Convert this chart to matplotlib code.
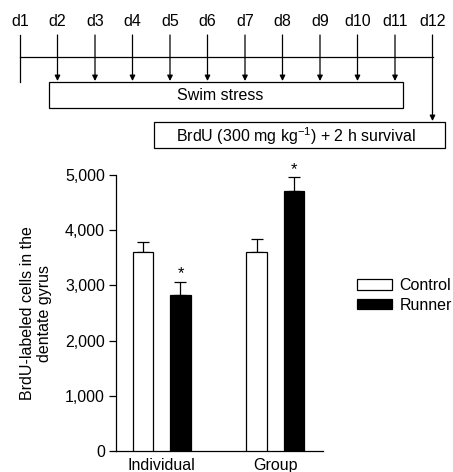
import numpy as np
import matplotlib
matplotlib.use("Agg")
import matplotlib.pyplot as plt
from matplotlib.patches import Rectangle

plt.rcParams['font.family'] = ['Liberation Sans', 'DejaVu Sans']
plt.rcParams['font.size'] = 11.5

# Данные
days = ['d1', 'd2', 'd3', 'd4', 'd5', 'd6', 'd7', 'd8', 'd9', 'd10', 'd11', 'd12']
stress_days = [2, 3, 4, 5, 6, 7, 8, 9, 10, 11]
brdu_day = 12
groups = ['Individual', 'Group']
control_mean = [3600, 3600]
control_err = [190, 245]
runner_mean = [2820, 4715]
runner_err = [250, 255]
runner_signif = [True, True]
yticks = [0, 1000, 2000, 3000, 4000, 5000]

W, H = 453, 472
fig = plt.figure(figsize=(W / 100, H / 100), dpi=100)

# Временная шкала сверху (оси в пикселях)
tl = fig.add_axes([0, 0, 1, 1])
tl.set_xlim(0, W)
tl.set_ylim(H, 0)
tl.axis('off')

def day_x(d):
    return 20 + (d - 1) * 37.5

lw = 0.9
for i, lab in enumerate(days):
    tl.text(day_x(i + 1), 22, lab, ha='center', va='center', fontsize=11.5)

tl.plot([day_x(1), day_x(1)], [35, 82], color='black', lw=lw)
tl.plot([day_x(1), day_x(12)], [57, 57], color='black', lw=lw)

for d in stress_days:
    tl.annotate('', xy=(day_x(d), 81), xytext=(day_x(d), 35),
                arrowprops=dict(arrowstyle='-|>', color='black', lw=lw,
                                mutation_scale=8, shrinkA=0, shrinkB=0))
tl.annotate('', xy=(day_x(brdu_day), 121), xytext=(day_x(brdu_day), 35),
            arrowprops=dict(arrowstyle='-|>', color='black', lw=lw,
                            mutation_scale=8, shrinkA=0, shrinkB=0))

tl.add_patch(Rectangle((49, 82), 354, 26, fill=False, lw=lw, ec='black'))
tl.text(220, 96, 'Swim stress', ha='center', va='center', fontsize=11.5)
tl.add_patch(Rectangle((154, 122), 291, 26, fill=False, lw=lw, ec='black'))
tl.text(296, 136, r'BrdU (300 mg kg$^{\mathregular{-1}}$) + 2 h survival',
        ha='center', va='center', fontsize=11.5)

# Столбчатая диаграмма
ax = fig.add_axes([116 / W, (H - 451) / H, (323 - 116) / W, (451 - 175) / H])
x = np.arange(len(groups))
off = 0.165
w = 0.18
ax.bar(x - off, control_mean, w, color='white', edgecolor='black', lw=lw,
       label='Control', zorder=3)
ax.bar(x + off, runner_mean, w, color='black', edgecolor='black', lw=lw,
       label='Runner', zorder=3)
ax.errorbar(x - off, control_mean, yerr=[[0, 0], control_err], fmt='none',
            ecolor='black', elinewidth=lw, capsize=4, capthick=lw, zorder=2)
ax.errorbar(x + off, runner_mean, yerr=[[0, 0], runner_err], fmt='none',
            ecolor='black', elinewidth=lw, capsize=4, capthick=lw, zorder=2)

for xi, m, e, s in zip(x + off, runner_mean, runner_err, runner_signif):
    if s:
        ax.annotate('*', (xi, m + e), xytext=(0, 0), textcoords='offset points',
                    ha='center', va='bottom', fontsize=12)

ax.set_xlim(-0.402, 1.418)
ax.set_ylim(0, 5000)
ax.set_yticks(yticks)
ax.set_yticklabels([f'{v:,}' for v in yticks])
ax.set_xticks(x)
ax.set_xticklabels(groups)
ax.tick_params(axis='x', length=0, pad=5)
ax.tick_params(axis='y', length=5, width=lw, pad=3)
for s in ['top', 'right']:
    ax.spines[s].set_visible(False)
for s in ['left', 'bottom']:
    ax.spines[s].set_linewidth(lw)
ax.set_ylabel('BrdU-labeled cells in the\ndentate gyrus', labelpad=9)

fig.legend(loc='upper left', bbox_to_anchor=(357 / W, 1 - 278 / H),
           frameon=False, borderpad=0, borderaxespad=0, handlelength=2.2,
           handleheight=0.63, handletextpad=0.45, labelspacing=0.3, fontsize=11.5)

fig.savefig('out.png', dpi=100)
